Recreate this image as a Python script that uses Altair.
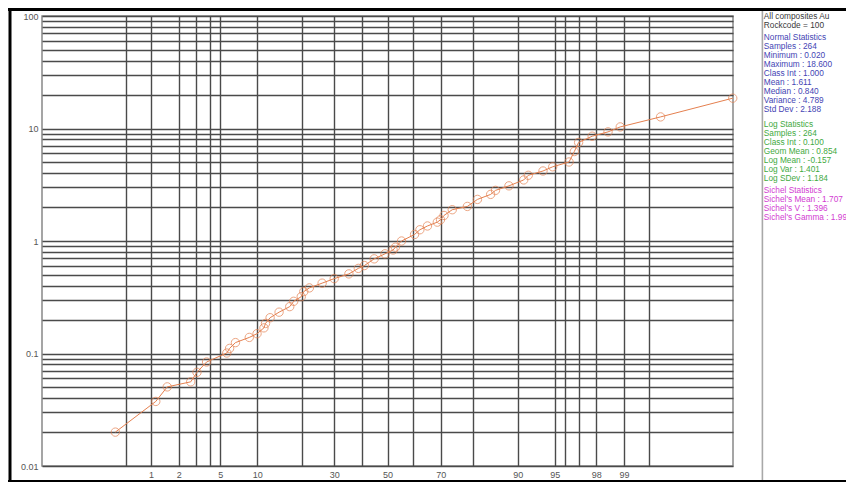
import altair as alt
import pandas as pd
from statistics import NormalDist

# ---------------- data ----------------
cum_pct = [0.37, 1.13, 1.51, 2.64, 3.04, 3.75, 5.69, 6.01, 6.73, 8.69,
           9.96, 11.2, 11.5, 12.4, 14.3, 16.8, 17.8, 19.8, 20.5, 22.1,
           26.0, 30.0, 35.2, 38.7, 41.0, 44.8, 49.0, 52.2, 53.1, 55.5,
           60.5, 62.5, 65.3, 68.8, 69.9, 71.1, 73.8, 78.4, 81.2, 84.5,
           85.6, 88.4, 91.0, 91.7, 93.7, 94.8, 96.3, 96.7, 97.0, 97.8,
           98.5, 98.9, 99.64, 99.966]
grade = [0.020, 0.0375, 0.0505, 0.056, 0.068, 0.084, 0.101, 0.111, 0.125, 0.139,
         0.150, 0.169, 0.185, 0.208, 0.233, 0.261, 0.291, 0.320, 0.355, 0.383,
         0.422, 0.463, 0.510, 0.571, 0.605, 0.694, 0.769, 0.832, 0.881, 1.00,
         1.143, 1.259, 1.360, 1.471, 1.545, 1.687, 1.897, 2.029, 2.343, 2.596,
         2.818, 3.092, 3.490, 3.836, 4.190, 4.567, 5.04, 6.24, 7.52, 8.54,
         9.33, 10.33, 12.68, 18.6]

grid_pct = [0.5, 1, 2, 3, 4, 5, 10, 20, 30, 40, 50, 60, 70, 80, 90, 95, 96, 97, 98, 99, 99.5]
label_pct = [1, 2, 5, 10, 30, 50, 70, 90, 95, 98, 99]
y_labels = [0.01, 0.1, 1, 10, 100]

title_lines = ["All composites Au", "Rockcode = 100"]
normal_lines = ["Normal Statistics", "Samples : 264", "Minimum : 0.020", "Maximum : 18.600",
                "Class Int : 1.000", "Mean : 1.611", "Median : 0.840", "Variance : 4.789",
                "Std Dev : 2.188"]
log_lines = ["Log Statistics", "Samples : 264", "Class Int : 0.100", "Geom Mean : 0.854",
             "Log Mean : -0.157", "Log Var : 1.401", "Log SDev : 1.184"]
sichel_lines = ["Sichel Statistics", "Sichel's Mean : 1.707", "Sichel's V : 1.396",
                "Sichel's Gamma : 1.99"]

group_names = ["title", "normal", "log", "sichel"]
group_colors = ["#3a3a3a", "#4444b4", "#3faa3f", "#d23cd2"]

ORANGE = "#e5804f"
FONT = "Liberation Sans"

# ---------------- build tables ----------------
nd = NormalDist()


def zq(p):
    return nd.inv_cdf(p / 100.0)


df = pd.DataFrame({"pct": cum_pct, "grade": grade, "i": list(range(len(cum_pct)))})
df["z"] = [zq(p) for p in cum_pct]

x_vals = [zq(p) for p in grid_pct]
x_label_expr = ""
for p in label_pct:
    x_label_expr += f"abs(datum.value - ({zq(p):.6f})) < 0.001 ? '{p}' : "
x_label_expr += "''"

y_vals = [m * 10 ** e for e in range(-2, 2) for m in range(1, 10)] + [100]
y_label_expr = " || ".join(f"abs(datum.value - {v}) < {v * 1e-6}" for v in y_labels)
y_label_expr = f"({y_label_expr}) ? datum.label : ''"

gap_after = [0.0, 0.35, 1.0, 1.4]
rows = []
line_no = 0
for g, (name, lines) in enumerate(zip(group_names, [title_lines, normal_lines, log_lines, sichel_lines])):
    for t in lines:
        rows.append({"label": t, "group": name, "row": line_no + gap_after[g]})
        line_no += 1
text_df = pd.DataFrame(rows)

# ---------------- chart ----------------
W, H = 691, 450

xenc = alt.X("z:Q",
             scale=alt.Scale(domain=[-3.4, 3.4], nice=False, zero=False),
             axis=alt.Axis(values=x_vals, labelExpr=x_label_expr, grid=True, ticks=False,
                           domain=False, title=None, labelPadding=4, labelFontSize=9,
                           labelColor="#555", labelAngle=0, labelOverlap=False,
                           labelFlush=False, gridColor="#4a4a4a", gridWidth=1.4))
yenc = alt.Y("grade:Q",
             scale=alt.Scale(type="log", domain=[0.01, 100], nice=False),
             axis=alt.Axis(values=y_vals, format="~g", labelExpr=y_label_expr, grid=True,
                           ticks=False, domain=False, title=None, labelPadding=4,
                           labelFontSize=9, labelColor="#555", labelOverlap=False,
                           labelFlush=False, gridColor="#4a4a4a", gridWidth=1.4))

base = alt.Chart(df).encode(x=xenc, y=yenc)
line = base.mark_line(color=ORANGE, strokeWidth=1).encode(order="i:Q")
pts = base.mark_point(shape="circle", filled=False, size=70, color=ORANGE, strokeWidth=1)
main = alt.layer(line, pts)

texts = alt.Chart(text_df).mark_text(align="left", baseline="middle", fontSize=8.3, font=FONT).encode(
    x=alt.value(721.8),
    y=alt.Y("row:Q", scale=alt.Scale(domain=[-0.06, -0.06 + H / 9.0], reverse=True, nice=False, zero=False),
            axis=None),
    text="label:N",
    color=alt.Color("group:N", scale=alt.Scale(domain=group_names, range=group_colors), legend=None),
)

deco = alt.Chart(pd.DataFrame({"k": [0]}))
sep = deco.mark_rule(color="#a8a8a8", strokeWidth=1.6).encode(
    x=alt.value(720.4), y=alt.value(-8), y2=alt.value(466))
left_bar = deco.mark_rule(color="#000", strokeWidth=3).encode(
    x=alt.value(-32), y=alt.value(-8), y2=alt.value(466))
top_bar = deco.mark_rule(color="#000", strokeWidth=3).encode(
    x=alt.value(-34), x2=alt.value(804), y=alt.value(-6.5))
bottom_bar = deco.mark_rule(color="#000", strokeWidth=2).encode(
    x=alt.value(-34), x2=alt.value(804), y=alt.value(465))

chart = alt.layer(main, texts, sep, left_bar, top_bar, bottom_bar).resolve_scale(
    y="independent"
).properties(
    width=W, height=H,
    autosize=alt.AutoSizeParams(type="none"),
    padding={"left": 34, "top": 8, "right": 113, "bottom": 16},
    background="white",
).configure_view(
    stroke="#888", strokeWidth=1.5
).configure_axis(
    labelFont=FONT
).configure_text(
    font=FONT
)

chart.save("out.html", embed_options={"renderer": "svg", "actions": False})
